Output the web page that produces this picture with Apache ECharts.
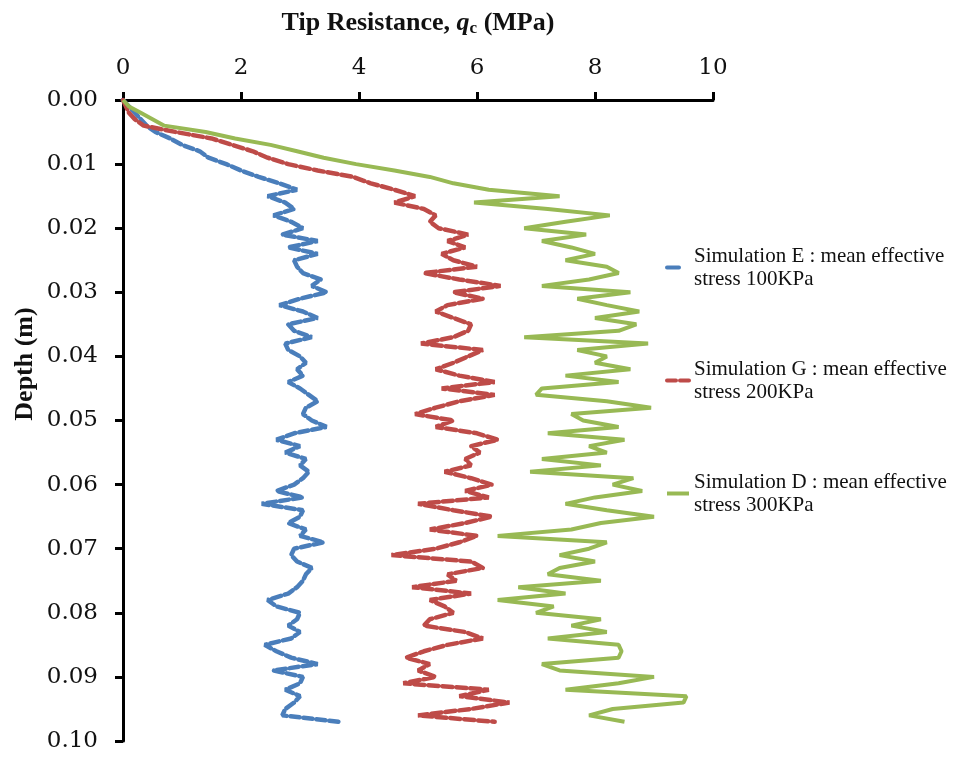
<!DOCTYPE html>
<html>
<head>
<meta charset="utf-8">
<script src="https://cdn.jsdelivr.net/npm/echarts@6/dist/echarts.min.js"></script>
<style>
  html, body { margin: 0; padding: 0; background: #fff; }
  #chart { width: 955px; height: 757px; }
</style>
</head>
<body>
<div id="chart"></div>
<script>
// depth (m), one reading every mm
var depth = [
  0.000, 0.001, 0.002, 0.003, 0.004, 0.005, 0.006, 0.007, 0.008, 0.009,
  0.010, 0.011, 0.012, 0.013, 0.014, 0.015, 0.016, 0.017, 0.018, 0.019,
  0.020, 0.021, 0.022, 0.023, 0.024, 0.025, 0.026, 0.027, 0.028, 0.029,
  0.030, 0.031, 0.032, 0.033, 0.034, 0.035, 0.036, 0.037, 0.038, 0.039,
  0.040, 0.041, 0.042, 0.043, 0.044, 0.045, 0.046, 0.047, 0.048, 0.049,
  0.050, 0.051, 0.052, 0.053, 0.054, 0.055, 0.056, 0.057, 0.058, 0.059,
  0.060, 0.061, 0.062, 0.063, 0.064, 0.065, 0.066, 0.067, 0.068, 0.069,
  0.070, 0.071, 0.072, 0.073, 0.074, 0.075, 0.076, 0.077, 0.078, 0.079,
  0.080, 0.081, 0.082, 0.083, 0.084, 0.085, 0.086, 0.087, 0.088, 0.089,
  0.090, 0.091, 0.092, 0.093, 0.094, 0.095, 0.096, 0.097
];

// tip resistance qc (MPa)
// Simulation E : 100KPa
var simE = [
  0, 0.1, 0.2, 0.3, 0.4, 0.55, 0.8, 1.0, 1.3, 1.45,
  1.75, 2.0, 2.3, 2.65, 2.95, 2.45, 2.75, 2.9, 2.55, 2.85,
  3.05, 2.7, 3.3, 2.8, 3.3, 2.9, 2.95, 3.05, 3.35, 3.2,
  3.45, 3.0, 2.65, 3.05, 3.3, 2.8, 2.9, 3.2, 2.75, 2.8,
  3.0, 3.1, 2.95, 3.05, 2.8, 3.0, 3.15, 3.3, 3.1, 3.05,
  3.2, 3.45, 2.9, 2.6, 3.0, 2.75, 3.1, 3.0, 3.15, 3.05,
  2.9, 2.6, 3.05, 2.35, 3.05, 3.0, 2.8, 3.1, 3.0, 3.4,
  2.9, 2.85, 2.95, 3.2, 3.1, 3.05, 2.95, 2.8, 2.45, 2.6,
  3.0, 2.95, 2.8, 3.0, 2.85, 2.4, 2.6, 2.85, 3.3, 2.55,
  3.05, 3.0, 2.75, 3.0, 2.9, 2.75, 2.7, 3.65
];

// Simulation G : 200KPa
var simG = [
  0, 0.05, 0.1, 0.2, 0.35, 0.9, 1.5, 1.85, 2.2, 2.45,
  2.8, 3.3, 3.9, 4.2, 4.6, 4.95, 4.6, 5.1, 5.3, 5.2,
  5.35, 5.85, 5.5, 5.8, 5.4, 5.6, 6.0, 5.1, 5.7, 6.4,
  5.6, 6.1, 5.5, 5.3, 5.6, 5.9, 5.85, 5.6, 5.05, 6.1,
  5.85, 5.6, 5.3, 5.7, 6.3, 5.4, 6.3, 5.7, 5.3, 4.95,
  5.6, 5.3, 6.0, 6.35, 5.9, 6.05, 5.8, 5.9, 5.45, 5.9,
  6.25, 5.8, 6.2, 5.0, 5.6, 6.25, 5.8, 5.2, 6.0, 5.7,
  5.3, 4.55, 5.9, 6.1, 5.5, 5.65, 4.9, 5.9, 5.2, 5.45,
  5.6, 5.2, 5.1, 5.8, 6.1, 5.5, 5.1, 4.8, 5.2, 5.0,
  5.3, 4.75, 6.2, 5.7, 6.55, 5.9, 5.0, 6.3
];

// Simulation D : 300KPa
var simD = [
  0, 0.1, 0.3, 0.5, 0.7, 1.4, 1.9, 2.5, 2.95, 3.4,
  3.95, 4.6, 5.2, 5.6, 6.2, 7.4, 5.95, 7.2, 8.25, 7.5,
  6.8, 7.85, 7.1, 7.6, 8.0, 7.5, 8.2, 8.4, 7.9, 7.1,
  8.6, 7.7, 8.2, 8.75, 8.0, 8.7, 8.4, 6.8, 8.9, 7.7,
  8.2, 8.0, 8.6, 7.5, 8.4, 7.1, 7.0, 8.2, 8.95, 7.6,
  7.8, 8.4, 7.2, 8.5, 7.9, 8.2, 7.1, 8.1, 6.9, 8.65,
  8.3, 8.8, 8.0, 7.5, 8.2, 9.0, 8.1, 7.6, 6.35, 8.2,
  7.9, 7.4, 8.0, 7.4, 7.2, 8.1, 6.7, 7.5, 6.35, 7.3,
  7.0, 8.1, 7.6, 8.2, 7.2, 8.4, 8.45, 8.4, 7.1, 7.4,
  9.0, 8.4, 7.5, 9.55, 9.5, 8.3, 7.9, 8.5
];

var seriesNames = [
  'Simulation E : mean effective\nstress 100KPa',
  'Simulation G : mean effective\nstress 200KPa',
  'Simulation D : mean effective\nstress 300KPa'
];
var seriesColors = ['#4A7EBB', '#BE4B48', '#98B954'];

function pairs(values) {
  return depth.map(function (d, i) { return [values[i], d]; });
}

var chart = echarts.init(document.getElementById('chart'), null, { renderer: 'canvas' });

var option = {
  animation: false,
  backgroundColor: '#fff',
  grid: { left: 123, right: 242, top: 100, bottom: 16, containLabel: false, outerBoundsMode: 'none' },
  legend: {
    orient: 'vertical',
    left: 660,
    top: 228,
    padding: 5,
    itemGap: 44,
    itemWidth: 22,
    itemHeight: 14,
    textStyle: {
      fontFamily: 'Liberation Serif',
      fontSize: 21,
      lineHeight: 23,
      color: '#111',
      padding: [23, 0, 0, 0]
    },
    data: [
      { name: seriesNames[0], itemStyle: { opacity: 0 }, lineStyle: { type: [12, 40], width: 4 } },
      { name: seriesNames[1], itemStyle: { opacity: 0 }, lineStyle: { type: [9, 4], width: 4 } },
      { name: seriesNames[2], itemStyle: { opacity: 0 }, lineStyle: { width: 4 } }
    ]
  },
  xAxis: {
    type: 'value',
    position: 'top',
    min: 0,
    max: 10,
    interval: 2,
    name: 'Tip Resistance, {i|q}{s|c} (MPa)',
    nameLocation: 'middle',
    nameGap: 63,
    nameMoveOverlap: false,
    nameTextStyle: {
      fontFamily: 'Liberation Serif',
      fontWeight: 'bold',
      fontSize: 26,
      color: '#111',
      rich: {
        i: { fontFamily: 'Liberation Serif', fontWeight: 'bold', fontStyle: 'italic', fontSize: 26, color: '#111' },
        s: { fontFamily: 'Liberation Serif', fontSize: 17, color: '#111', verticalAlign: 'bottom', padding: [10, 0, 0, 0] }
      }
    },
    axisLine: { lineStyle: { color: '#000', width: 3 } },
    axisTick: { length: 8, lineStyle: { color: '#000', width: 3 } },
    axisLabel: { margin: 20, fontFamily: 'DejaVu Serif', fontSize: 23, color: '#111' },
    splitLine: { show: false }
  },
  yAxis: {
    type: 'value',
    inverse: true,
    min: 0,
    max: 0.1,
    interval: 0.01,
    axisLine: { lineStyle: { color: '#000', width: 3 } },
    axisTick: { length: 8, lineStyle: { color: '#000', width: 3 } },
    axisLabel: {
      margin: 25,
      fontFamily: 'DejaVu Serif',
      fontSize: 23,
      color: '#111',
      formatter: function (v) { return v.toFixed(2); }
    },
    splitLine: { show: false }
  },
  graphic: [{
    type: 'text',
    x: 25,
    y: 364,
    rotation: Math.PI / 2,
    style: {
      text: 'Depth (m)',
      fontFamily: 'Liberation Serif',
      fontWeight: 'bold',
      fontSize: 26,
      fill: '#111',
      align: 'center',
      verticalAlign: 'middle'
    }
  }],
  series: [
    {
      name: seriesNames[0],
      type: 'line',
      data: pairs(simE),
      symbol: 'none',
      color: seriesColors[0],
      lineStyle: { width: 4.5, type: [9, 4], cap: 'round' },
      z: 2
    },
    {
      name: seriesNames[1],
      type: 'line',
      data: pairs(simG),
      symbol: 'none',
      color: seriesColors[1],
      lineStyle: { width: 4.5, type: [10, 4], cap: 'round' },
      z: 3
    },
    {
      name: seriesNames[2],
      type: 'line',
      data: pairs(simD),
      symbol: 'none',
      color: seriesColors[2],
      lineStyle: { width: 4 },
      z: 4
    }
  ]
};

chart.setOption(option);
</script>
</body>
</html>
